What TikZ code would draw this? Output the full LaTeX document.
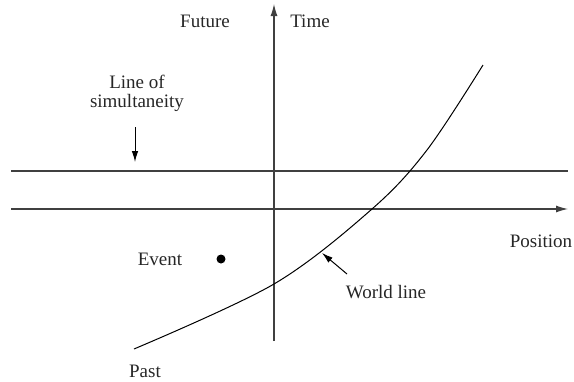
\documentclass[tikz,border=0pt]{standalone}
\usepackage{fontspec}
\setmainfont{Liberation Serif}
\usetikzlibrary{arrows.meta}
\begin{document}
\begin{tikzpicture}[x=1pt,y=-1pt,
  lbl/.style={inner sep=0pt,font=\fontsize{19}{19}\selectfont,text=black!85},
  axisline/.style={line width=1.1pt,draw=black!75},
  tipped/.style={-{Latex[length=12pt,width=7pt]}},
  curveline/.style={line width=1pt,draw=black},
  pointer/.style={line width=1pt,draw=black,-{Latex[length=11pt,width=6.5pt]}}]
\useasboundingbox (0,0) rectangle (574,381);
% axes
\coordinate (vb) at (274,341);
\coordinate (vt) at (274,4);
\coordinate (hl) at (11,209);
\coordinate (hr) at (568,209);
\coordinate (sl) at (11,171);
\coordinate (sr) at (568,171);
\draw[axisline,tipped] (vb) -- (vt);
\draw[axisline,tipped] (hl) -- (hr);
\draw[axisline] (sl) -- (sr);
% world line
\draw[curveline] plot[smooth,tension=0.55] coordinates {(134,349) (274,284) (372,209) (427,150) (483,65)};
% labels
\node[lbl] (future) at (205,21) {Future};
\node[lbl] (time) at (310,21) {Time};
\node[lbl,align=center] (los) at (137,93) {Line of\\simultaneity};
\coordinate (losa) at (135,127);
\coordinate (losb) at (135,162);
\draw[pointer] (losa) -- (losb);
\node[lbl] (position) at (541,241) {Position};
\node[lbl] (event) at (160,259) {Event};
\node[circle,fill=black,inner sep=0pt,minimum size=9pt] (dot) at (221,259) {};
\node[lbl] (wl) at (386,292) {World line};
\coordinate (wla) at (347,274);
\coordinate (wlb) at (322,253);
\draw[pointer] (wla) -- (wlb);
\node[lbl] (past) at (145,371) {Past};
\end{tikzpicture}
\end{document}
